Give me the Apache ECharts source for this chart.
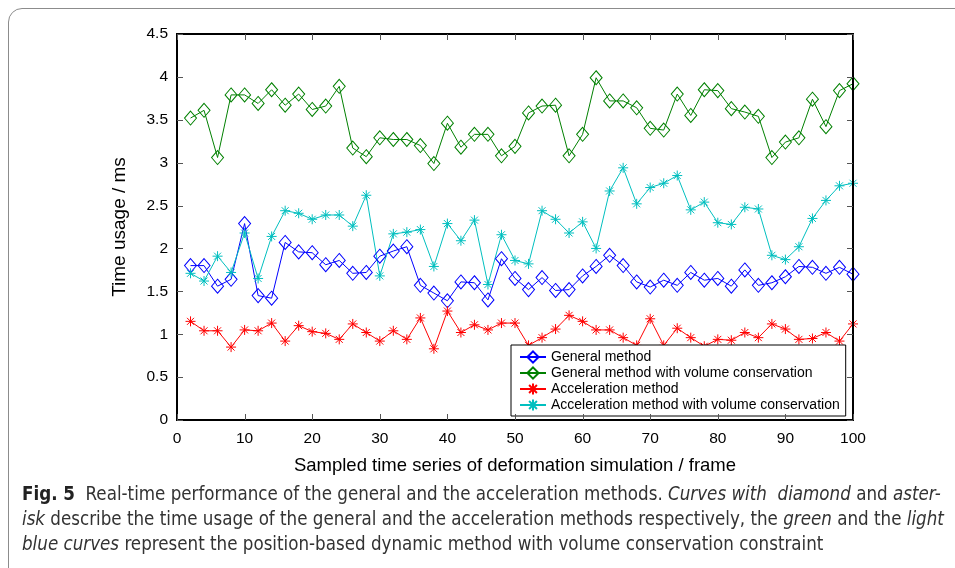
<!DOCTYPE html>
<html>
<head>
<meta charset="utf-8">
<script src="https://cdn.jsdelivr.net/npm/echarts@6/dist/echarts.min.js"></script>
<style>
  html, body { margin: 0; padding: 0; width: 955px; height: 568px; overflow: hidden; background: #fff; }
  #card { position: absolute; left: 8px; top: 8px; width: 1100px; height: 700px;
          border: 1px solid #8c8c8c; border-radius: 14px; }
  #chart { position: absolute; left: 0; top: 0; width: 955px; height: 568px; }
  #caption { position: absolute; left: 22px; top: 481px; width: 930px; z-index: 2;
             font-family: "Liberation Sans Narrow", "DejaVu Sans Condensed", "Open Sans", sans-serif;
             font-size: 18.6px; line-height: 25px; color: #333; white-space: nowrap; }
  #caption b { color: #222; }
</style>
</head>
<body>
<div id="card"></div>
<div id="chart"></div>
<div id="caption"><b>Fig. 5</b>&nbsp; Real-time performance of the general and the acceleration methods. <i>Curves with&nbsp; diamond</i> and <i>aster-</i><br><i>isk</i> describe the time usage of the general and the acceleration methods respectively, the <i>green</i> and the <i>light</i><br><i>blue curves</i> represent the position-based dynamic method with volume conservation constraint</div>
<script>
// sample frames
var frames = [2,4,6,8,10,12,14,16,18,20,22,24,26,28,30,32,34,36,38,40,
              42,44,46,48,50,52,54,56,58,60,62,64,66,68,70,72,74,76,78,80,
              82,84,86,88,90,92,94,96,98,100];

var generalMethod = [1.80,1.80,1.56,1.64,2.29,1.45,1.42,2.07,1.96,1.95,
                     1.81,1.86,1.71,1.72,1.91,1.97,2.02,1.57,1.48,1.39,
                     1.61,1.60,1.40,1.88,1.65,1.52,1.66,1.51,1.52,1.68,
                     1.79,1.92,1.80,1.61,1.55,1.63,1.57,1.72,1.63,1.65,
                     1.56,1.75,1.57,1.60,1.67,1.79,1.78,1.71,1.78,1.70];

var generalVolume = [3.52,3.61,3.06,3.79,3.79,3.69,3.85,3.67,3.80,3.62,
                     3.66,3.89,3.17,3.07,3.29,3.27,3.27,3.20,2.99,3.46,
                     3.18,3.33,3.33,3.08,3.19,3.58,3.66,3.67,3.08,3.33,
                     3.99,3.72,3.72,3.64,3.40,3.38,3.80,3.55,3.85,3.84,
                     3.63,3.59,3.54,3.06,3.24,3.29,3.74,3.42,3.84,3.92];

var accelMethod = [1.15,1.04,1.04,0.85,1.05,1.04,1.13,0.92,1.10,1.03,
                   1.01,0.94,1.12,1.02,0.92,1.04,0.94,1.19,0.83,1.27,
                   1.02,1.11,1.05,1.13,1.13,0.87,0.96,1.06,1.22,1.15,
                   1.05,1.05,0.96,0.87,1.18,0.87,1.07,0.96,0.86,0.94,
                   0.93,1.02,0.96,1.12,1.06,0.94,0.95,1.02,0.92,1.12];

var accelVolume = [1.71,1.62,1.91,1.72,2.18,1.65,2.14,2.44,2.41,2.34,
                   2.39,2.39,2.26,2.62,1.68,2.17,2.19,2.22,1.79,2.29,
                   2.09,2.33,1.58,2.16,1.86,1.82,2.44,2.34,2.18,2.31,
                   2.00,2.67,2.94,2.52,2.71,2.76,2.85,2.45,2.54,2.30,
                   2.28,2.48,2.46,1.92,1.87,2.02,2.35,2.56,2.73,2.76];

var seriesNames = ['General method', 'General method with volume conservation',
                   'Acceleration method', 'Acceleration method with volume conservation'];

var xTicks = [0, 10, 20, 30, 40, 50, 60, 70, 80, 90, 100];
var yTicks = [0, 0.5, 1, 1.5, 2, 2.5, 3, 3.5, 4, 4.5];

var asterisk = 'path://M0,5L10,5M5,0L5,10M1.5,1.5L8.5,8.5M8.5,1.5L1.5,8.5';

function pairs(vals) {
    return frames.map(function (f, i) { return [f, vals[i]]; });
}

function makeSeries(name, vals, color, marker) {
    var isDiamond = marker === 'diamond';
    return {
        name: name,
        type: 'line',
        data: pairs(vals),
        symbol: isDiamond ? 'diamond' : asterisk,
        symbolSize: isDiamond ? [12, 14] : 10,
        showSymbol: true,
        lineStyle: { color: color, width: 1 },
        itemStyle: { color: 'rgba(0,0,0,0)', borderColor: color, borderWidth: 1 },
        emphasis: { disabled: true },
        animation: false
    };
}

var fontFam = '"Liberation Sans", Arial, sans-serif';

var chart = echarts.init(document.getElementById('chart'));
var option = {
    animation: false,
    grid: {
        left: 177, top: 34, right: 102, bottom: 148,
        outerBoundsMode: 'none',
        containLabel: false
    },
    legend: {
        orient: 'vertical',
        left: 511, top: 345,
        padding: [5, 6, 4, 8],
        itemGap: 2,
        itemWidth: 26,
        itemHeight: 14,
        backgroundColor: '#fff',
        borderColor: '#000',
        borderWidth: 1,
        textStyle: { fontFamily: fontFam, fontSize: 14, color: '#000' },
        data: seriesNames
    },
    xAxis: {
        type: 'value', min: 0, max: 100, interval: 10,
        name: 'Sampled time series of deformation simulation / frame',
        nameLocation: 'middle', nameGap: 36,
        nameTextStyle: { fontFamily: fontFam, fontSize: 18.5, color: '#000' },
        axisLine: { onZero: false, lineStyle: { color: '#000', width: 2 } },
        axisTick: { show: false },
        axisLabel: { fontFamily: fontFam, fontSize: 15.5, color: '#000', margin: 11 },
        splitLine: { show: false }
    },
    yAxis: {
        type: 'value', min: 0, max: 4.5, interval: 0.5,
        name: 'Time usage / ms',
        nameLocation: 'middle', nameGap: 48,
        nameTextStyle: { fontFamily: fontFam, fontSize: 19, color: '#000' },
        axisLine: { show: true, onZero: false, lineStyle: { color: '#000', width: 2 } },
        axisTick: { show: false },
        axisLabel: { fontFamily: fontFam, fontSize: 15.5, color: '#000', margin: 9 },
        splitLine: { show: false }
    },
    series: [
        makeSeries(seriesNames[0], generalMethod, '#0000ff', 'diamond'),
        makeSeries(seriesNames[1], generalVolume, '#008000', 'diamond'),
        makeSeries(seriesNames[2], accelMethod, '#ff0000', 'asterisk'),
        makeSeries(seriesNames[3], accelVolume, '#00bfbf', 'asterisk')
    ]
};
chart.setOption(option);

// box around the plot and inner ticks on all four sides, placed from the axes' scale
function px(x, y) { return chart.convertToPixel({ xAxisIndex: 0, yAxisIndex: 0 }, [x, y]); }
var p0 = px(0, 4.5), p1 = px(100, 0);
var tickLen = 6;
var marks = [{
    type: 'rect', z: 100, silent: true,
    shape: { x: p0[0], y: p0[1], width: p1[0] - p0[0], height: p1[1] - p0[1] },
    style: { fill: 'none', stroke: '#000', lineWidth: 2 }
}];
function tick(x, y, w, h) {
    marks.push({ type: 'rect', z: 100, silent: true,
                 shape: { x: x, y: y, width: w, height: h },
                 style: { fill: '#555' } });
}
xTicks.forEach(function (t) {
    var x = Math.round(px(t, 0)[0]);
    tick(x, p1[1] - tickLen, 1, tickLen);
    tick(x, p0[1], 1, tickLen);
});
yTicks.forEach(function (t) {
    var y = Math.round(px(0, t)[1]);
    tick(p0[0], y, tickLen, 1);
    tick(p1[0] - tickLen, y, tickLen, 1);
});
chart.setOption({ graphic: marks });
</script>
</body>
</html>
